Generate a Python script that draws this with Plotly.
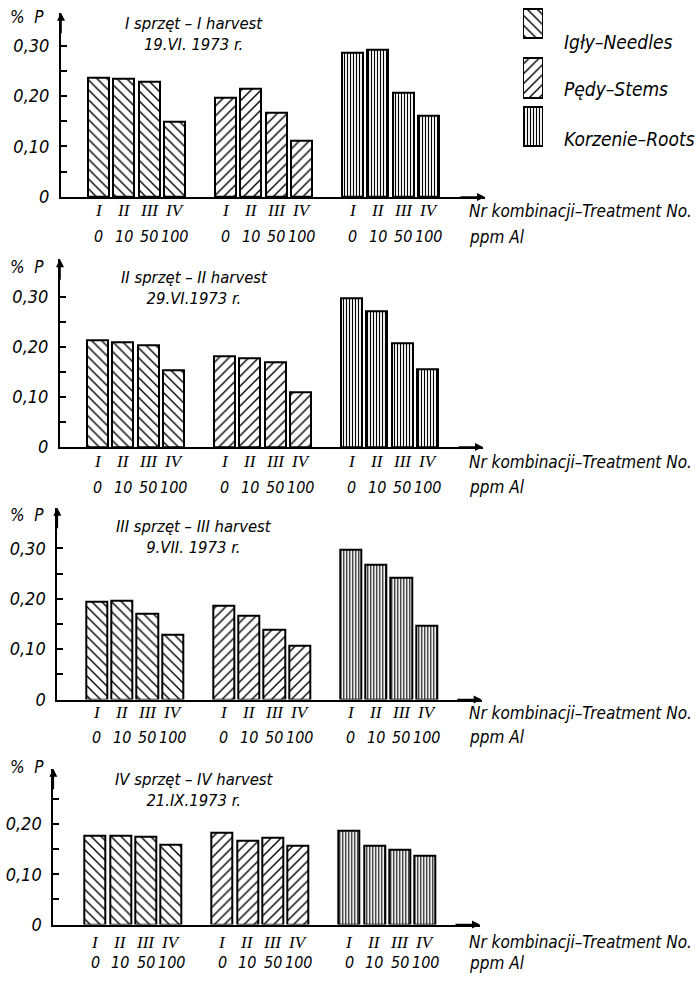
import plotly.graph_objects as go

# ---------------- data ----------------
organs = ["Igły–Needles", "Pędy–Stems", "Korzenie–Roots"]
treatments = ["I", "II", "III", "IV"]
ppm_al = ["0", "10", "50", "100"]
harvest_titles = ["I sprzęt – I harvest", "II sprzęt – II harvest",
                  "III sprzęt – III harvest", "IV sprzęt – IV harvest"]
harvest_dates = ["19.VI. 1973 r.", "29.VI.1973 r.", "9.VII. 1973 r.", "21.IX.1973 r."]

needles = [[0.236, 0.233, 0.228, 0.149],
           [0.213, 0.208, 0.202, 0.153],
           [0.193, 0.195, 0.170, 0.129],
           [0.176, 0.176, 0.174, 0.158]]
stems = [[0.196, 0.214, 0.166, 0.111],
         [0.181, 0.177, 0.169, 0.109],
         [0.187, 0.166, 0.139, 0.107],
         [0.182, 0.167, 0.172, 0.156]]
roots = [[0.286, 0.291, 0.206, 0.161],
         [0.297, 0.271, 0.206, 0.155],
         [0.298, 0.268, 0.241, 0.146],
         [0.187, 0.156, 0.149, 0.136]]
series = [needles, stems, roots]
patterns = ["\\", "/", "|"]
pat_size = [7, 7, 3]
pat_sol = [0.2, 0.2, 0.38]

y_tick_vals = [[0, 0.05, 0.10, 0.15, 0.20, 0.25, 0.30]] * 3 + [[0, 0.05, 0.10, 0.15, 0.20, 0.25]]
y_tick_text = [["0", "", "0,10", "", "0,20", "", "0,30"]] * 3 + [["0", "", "0,10", "", "0,20", ""]]

# ---------------- geometry (pixels in a 700x986 page) ----------------
W, H = 700, 986
FONT = "Liberation Sans Narrow, DejaVu Sans Condensed, Liberation Sans, sans-serif"
SERIF = "Liberation Serif, DejaVu Serif, serif"
panels = [  # baseline, axis top, axis x, arrow end x, first bar centre, px per 0.1, rows y, title y
    dict(base=199, top=13, L=61, R=485, c0=98.5, s=51.0, r1=213, r2=239, t=34, p=17),
    dict(base=451.7, top=262, L=60, R=483, c0=97.5, s=50.7, r1=466.7, r2=492, t=290.5, p=270),
    dict(base=706.7, top=513, L=57.3, R=481.7, c0=96.5, s=50.9, r1=720, r2=745, t=542, p=520),
    dict(base=934, top=776.7, L=53.3, R=480, c0=95, s=50.7, r1=951.7, r2=972.7, t=798, p=775),
]
UNIT = 25.4
BARW = 0.83

def px(xp):
    return xp / W

def py(yp):
    return 1 - yp / H

fig = go.Figure()
annotations = []
layout = {}

for k, g in enumerate(panels):
    n = k + 1
    xa = "x" if n == 1 else f"x{n}"
    ya = "y" if n == 1 else f"y{n}"
    for s_i, ser in enumerate(series):
        xs = [s_i * 5 + i for i in range(4)]
        fig.add_trace(go.Bar(
            x=xs, y=ser[k], width=BARW, xaxis=xa, yaxis=ya, showlegend=False,
            marker=dict(color="white", line=dict(color="black", width=2),
                        pattern=dict(shape=patterns[s_i], size=pat_size[s_i], solidity=pat_sol[s_i],
                                     fgcolor="black", bgcolor="white", fillmode="replace")),
            hoverinfo="skip"))
        for i in range(4):
            annotations.append(dict(xref=xa, yref="paper", x=xs[i], y=py(g["r1"]), text=treatments[i],
                                    showarrow=False, font=dict(family=SERIF, size=17), yanchor="middle",
                                    xanchor="center"))
            annotations.append(dict(xref=xa, yref="paper", x=xs[i], y=py(g["r2"]), text=ppm_al[i],
                                    showarrow=False, font=dict(size=16), yanchor="middle",
                                    xanchor="center"))
    yr = (g["base"] - g["top"]) / (g["s"] * 10)
    xr = [(g["L"] - g["c0"]) / UNIT, (g["R"] - g["c0"]) / UNIT]
    layout["xaxis" if n == 1 else f"xaxis{n}"] = dict(
        domain=[px(g["L"]), px(g["R"])], range=xr, anchor=ya, showline=True, linecolor="black",
        linewidth=2, showticklabels=False, ticks="", showgrid=False, zeroline=False, fixedrange=True)
    layout["yaxis" if n == 1 else f"yaxis{n}"] = dict(
        domain=[py(g["base"]), py(g["top"])], range=[0, yr], anchor=xa, showline=True,
        linecolor="black", linewidth=2, tickvals=y_tick_vals[k], ticktext=y_tick_text[k],
        ticks="inside", ticklen=6, tickwidth=1.5, tickcolor="black", showgrid=False,
        zeroline=False, tickfont=dict(size=18), ticklabelstandoff=6, fixedrange=True)
    # arrows
    annotations.append(dict(xref="paper", yref="paper", x=px(g["L"]), y=py(g["top"]), ax=0, ay=22,
                            text="", showarrow=True, arrowhead=2, arrowsize=1, arrowwidth=1.6,
                            arrowcolor="black"))
    annotations.append(dict(xref="paper", yref="paper", x=px(g["R"]), y=py(g["base"]), ax=-26, ay=0,
                            text="", showarrow=True, arrowhead=2, arrowsize=1, arrowwidth=1.6,
                            arrowcolor="black"))
    # titles (two lines in one text)
    annotations.append(dict(xref="paper", yref="paper", x=px(194), y=py(g["t"]),
                            text=harvest_titles[k] + "<br>" + harvest_dates[k],
                            showarrow=False, font=dict(size=16.5), xanchor="center", yanchor="middle",
                            align="center"))
    annotations.append(dict(xref="paper", yref="paper", x=px(8), y=py(g["p"]), text="%  P",
                            showarrow=False, font=dict(size=17), xanchor="left", yanchor="middle"))
    annotations.append(dict(xref="paper", yref="paper", x=px(467), y=py(g["r1"]),
                            text="Nr kombinacji–Treatment No.", showarrow=False, font=dict(size=17),
                            xanchor="left", yanchor="middle"))
    annotations.append(dict(xref="paper", yref="paper", x=px(467), y=py(g["r2"]), text="ppm Al",
                            showarrow=False, font=dict(size=17), xanchor="left", yanchor="middle"))

# ---------------- legend key (own hidden axes) ----------------
leg_top = [9, 59, 108]
leg_h = [29, 40, 39]
leg_text_y = [42, 90, 140]
for s_i in range(3):
    fig.add_trace(go.Bar(
        x=[0], y=[leg_h[s_i]], base=[leg_top[s_i]], width=1, xaxis="x5", yaxis="y5", showlegend=False,
        marker=dict(color="white", line=dict(color="black", width=2),
                    pattern=dict(shape=patterns[s_i], size=pat_size[s_i], solidity=pat_sol[s_i],
                                 fgcolor="black", bgcolor="white", fillmode="replace")),
        hoverinfo="skip"))
    annotations.append(dict(xref="paper", yref="paper", x=px(562), y=py(leg_text_y[s_i]), text=organs[s_i],
                            showarrow=False, font=dict(size=19), xanchor="left", yanchor="middle"))
layout["xaxis5"] = dict(domain=[px(523), px(543)], range=[-0.5, 0.5], anchor="y5", visible=False,
                        fixedrange=True)
layout["yaxis5"] = dict(domain=[py(150), py(5)], range=[150, 5], anchor="x5", visible=False,
                        fixedrange=True)

fig.update_layout(
    width=W, height=H, margin=dict(l=0, r=0, t=0, b=0), paper_bgcolor="white", plot_bgcolor="white",
    font=dict(family=FONT, color="black", size=15, style="italic"), barmode="overlay", bargap=0,
    annotations=annotations, **layout)

fig.write_html("out.html")
